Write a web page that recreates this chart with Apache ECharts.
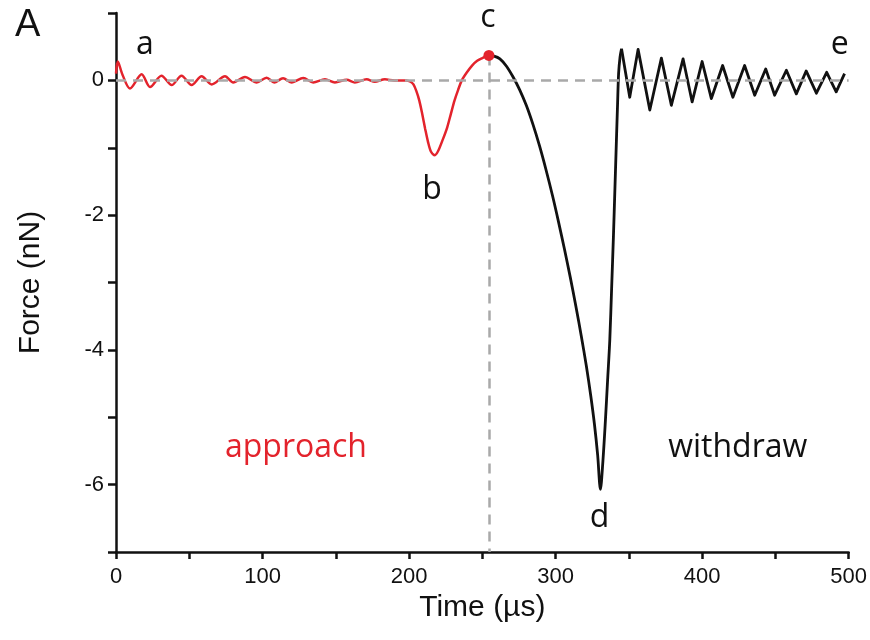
<!DOCTYPE html>
<html>
<head>
<meta charset="utf-8">
<title>Force curve</title>
<script src="https://cdn.jsdelivr.net/npm/echarts@6/dist/echarts.min.js"></script>
<style>
  html, body { margin: 0; padding: 0; background: #fff; }
  #myChart { width: 870px; height: 640px; }
</style>
</head>
<body>
<div id="myChart"></div>
<script>
// approach part (red), time in µs, force in nN
var approachTime = [0, 1.2, 4.5, 9.5, 17.5, 23.2, 31, 38, 44.7, 51.6, 58.4, 65.3, 74.4, 80, 88, 96, 102.8, 108, 114, 120,
  127.8, 134.6, 142.6, 149.4, 157.4, 163, 171, 176.6, 183.5, 190, 198, 201, 203, 205, 207, 209, 211, 213, 215, 217.6,
  220, 223, 226, 228.5, 231, 233.5, 236, 239.5, 243, 246.5, 250, 254];
var approachForce = [0.1, 0.28, 0.08, -0.12, 0.09, -0.1, 0.07, -0.07, 0.07, -0.07, 0.06, -0.06, 0.06, -0.03, 0.05, -0.03, 0.04, -0.03, 0.03, -0.03,
  0.035, -0.03, 0.015, -0.03, 0.01, -0.03, 0.015, -0.02, 0.015, 0, 0, -0.02, -0.06, -0.16, -0.3, -0.5, -0.72, -0.92, -1.06, -1.11,
  -1.04, -0.88, -0.7, -0.5, -0.3, -0.14, 0, 0.12, 0.22, 0.29, 0.33, 0.37];

// withdraw part (black): pull-off down to d and snap back
var withdrawTime = [254, 258, 262, 266.5, 271, 275.5, 280, 284.5, 289, 293.5, 298, 302, 306, 310, 314, 317.5, 321, 324, 326.5,
  328.7, 330.6, 332.3, 334, 335.5, 337, 338.3, 339.5, 340.5, 341.5, 342.3, 343, 344, 345];
var withdrawForce = [0.37, 0.36, 0.32, 0.21, 0.05, -0.14, -0.37, -0.65, -0.97, -1.33, -1.72, -2.1, -2.5, -2.92, -3.37, -3.79, -4.24, -4.68, -5.1,
  -5.56, -6.07, -5.65, -5.05, -4.45, -3.85, -3.05, -2.3, -1.6, -0.9, -0.35, 0.1, 0.35, 0.47];

// ringing after release
var ringTime = [345, 350.6, 356.3, 364.3, 372.2, 379, 387, 393.2, 400, 406.3, 414, 421, 429, 435.9, 443.4, 449.5, 457.5, 464.3,
  471, 478, 485, 491.5, 497.2];
var ringForce = [0.47, -0.25, 0.46, -0.44, 0.33, -0.37, 0.32, -0.32, 0.28, -0.27, 0.22, -0.25, 0.22, -0.22, 0.17, -0.22, 0.15, -0.2,
  0.14, -0.19, 0.12, -0.17, 0.1];

// contact point c
var contactTime = 254.5;
var contactForce = 0.37;

// text notes
var noteText = ['a', 'b', 'c', 'd', 'e', 'approach', 'withdraw'];
var noteTime = [19.8, 215.6, 253.8, 330, 494, 122.8, 424.3];
var noteForce = [0.52, -1.63, 0.92, -6.49, 0.52, -5.45, -5.45];

var RED = '#e3232c';
var GREY = '#a9a9a9';
var INK = '#111';

function zip(xs, ys) {
  var out = [];
  for (var i = 0; i < xs.length; i++) out.push([xs[i], ys[i]]);
  return out;
}

var notes = noteText.map(function (t, i) {
  return {
    value: [noteTime[i], noteForce[i]],
    name: t,
    label: { color: t === 'approach' ? RED : INK }
  };
});

var option = {
  animation: false,
  title: {
    text: 'A',
    left: 10,
    top: 2,
    textStyle: { fontFamily: 'Liberation Sans', fontWeight: 'normal', fontSize: 38, color: INK }
  },
  grid: { left: 116, right: 21, top: 13, bottom: 88 },
  xAxis: {
    type: 'value',
    min: 0,
    max: 500,
    interval: 50,
    name: 'Time (µs)',
    nameLocation: 'middle',
    nameGap: 40,
    nameTextStyle: { fontFamily: 'Liberation Sans', fontSize: 30, color: INK },
    axisLine: { show: true, onZero: false, lineStyle: { color: INK, width: 2.5 } },
    axisTick: { show: true, length: 7, lineStyle: { color: INK, width: 2.5 } },
    axisLabel: {
      margin: 14,
      fontFamily: 'Liberation Sans',
      fontSize: 22,
      color: INK,
      formatter: function (v) { return v % 100 === 0 ? String(v) : ''; }
    },
    splitLine: { show: false }
  },
  yAxis: {
    type: 'value',
    min: -7,
    max: 1,
    interval: 1,
    name: 'Force (nN)',
    nameLocation: 'middle',
    nameGap: 70,
    nameTextStyle: { fontFamily: 'Liberation Sans', fontSize: 30, color: INK },
    axisLine: { show: true, onZero: false, lineStyle: { color: INK, width: 2.5 } },
    axisTick: { show: true, length: 8, lineStyle: { color: INK, width: 2.5 } },
    axisLabel: {
      margin: 12,
      fontFamily: 'Liberation Sans',
      fontSize: 22,
      color: INK,
      formatter: function (v) { return (v % 2 === 0 && v <= 0) ? String(v) : ''; }
    },
    splitLine: { show: false }
  },
  series: [
    {
      name: 'approach',
      type: 'line',
      data: zip(approachTime, approachForce),
      smooth: 0.3,
      showSymbol: false,
      lineStyle: { color: RED, width: 2.5 },
      z: 3,
      markLine: {
        silent: true,
        symbol: 'none',
        label: { show: false },
        lineStyle: { color: GREY, width: 2.5, type: [10, 7] },
        data: [
          [{ coord: [0, 0] }, { coord: [500, 0] }],
          [{ coord: [contactTime, contactForce] }, { coord: [contactTime, -7] }]
        ]
      }
    },
    {
      name: 'withdraw',
      type: 'line',
      data: zip(withdrawTime, withdrawForce),
      smooth: 0.3,
      showSymbol: false,
      lineStyle: { color: INK, width: 2.8 },
      z: 3
    },
    {
      name: 'ringing',
      type: 'line',
      data: zip(ringTime, ringForce),
      smooth: false,
      showSymbol: false,
      lineStyle: { color: INK, width: 2.8, join: 'round' },
      z: 3
    },
    {
      name: 'contact',
      type: 'scatter',
      data: [[contactTime, contactForce]],
      symbolSize: 11,
      itemStyle: { color: RED, opacity: 1 },
      z: 5
    },
    {
      name: 'notes',
      type: 'scatter',
      data: notes,
      symbolSize: 0,
      silent: true,
      itemStyle: { opacity: 1 },
      label: {
        show: true,
        position: 'inside',
        fontFamily: 'Open Sans',
        fontSize: 32,
        opacity: 1,
        formatter: function (p) { return p.name; }
      }
    }
  ]
};

var myChart = echarts.init(document.getElementById('myChart'));
myChart.setOption(option);

window.onresize = function () {
  myChart.resize();
};
</script>
</body>
</html>
